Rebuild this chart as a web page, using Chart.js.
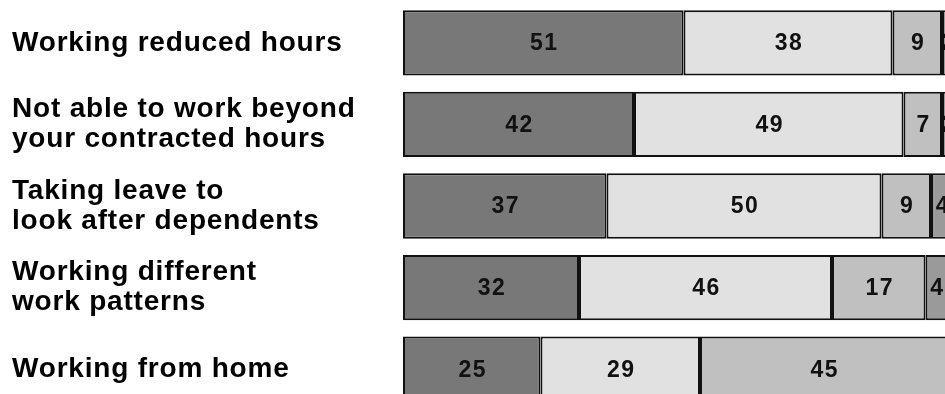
<!DOCTYPE html>
<html>
<head>
<meta charset="utf-8">
<script src="https://cdn.jsdelivr.net/npm/chart.js@4"></script>
<style>
  html, body { margin: 0; padding: 0; background: #fff; overflow: hidden; width: 945px; height: 394px; }
  canvas { display: block; }
</style>
</head>
<body>
<canvas id="graficoBarras" width="960" height="412"></canvas>
<script>
// dados do grafico
const categorias = [
  ["Working reduced hours"],
  ["Not able to work beyond", "your contracted hours"],
  ["Taking leave to", "look after dependents"],
  ["Working different", "work patterns"],
  ["Working from home"],
];
const serie1 = [51, 42, 37, 32, 25];
const serie2 = [38, 49, 50, 46, 29];
const serie3 = [9, 7, 9, 17, 45];
const serie4 = [2, 2, 4, 4, 1];

const cores = ["#787878", "#e1e1e1", "#c0c0c0", "#9a9a9a"];

// rotulos no meio de cada segmento
const rotulosBarras = {
  id: "rotulosBarras",
  afterDatasetsDraw(chart) {
    const ctx = chart.ctx;
    ctx.save();
    ctx.font = "bold 23px 'Liberation Sans', Arial, sans-serif";
    ctx.fillStyle = "#111";
    ctx.textAlign = "center";
    ctx.textBaseline = "middle";
    ctx.letterSpacing = "1.5px";
    chart.data.datasets.forEach((ds, i) => {
      const meta = chart.getDatasetMeta(i);
      meta.data.forEach((bar, j) => {
        const cx = (bar.x + bar.base) / 2 + 1;
        ctx.fillText(String(ds.data[j]), cx, bar.y + 1);
      });
    });
    ctx.restore();
  },
};

const espacamento = {
  id: "espacamento",
  beforeDraw(chart) {
    chart.ctx.letterSpacing = "0.8px";
  },
};

new Chart(document.getElementById("graficoBarras"), {
  type: "bar",
  data: {
    labels: categorias,
    datasets: [serie1, serie2, serie3, serie4].map((valores, i) => ({
      data: valores,
      backgroundColor: cores[i],
      borderColor: "#111",
      borderWidth: 2,
      borderSkipped: false,
      barPercentage: 0.8,
      categoryPercentage: 1,
    })),
  },
  options: {
    indexAxis: "y",
    responsive: false,
    animation: false,
    devicePixelRatio: 1,
    layout: { padding: { left: 12, right: 7, top: 2, bottom: 2 } },
    plugins: {
      legend: { display: false },
      tooltip: { enabled: false },
      title: { display: false },
    },
    scales: {
      x: {
        stacked: true,
        min: 0,
        max: 100,
        display: false,
      },
      y: {
        stacked: true,
        grid: { display: false },
        border: { display: false },
        afterFit: (scale) => {
          scale.width = 391;
          scale.paddingTop = 0;
          scale.paddingBottom = 0;
        },
        ticks: {
          crossAlign: "far",
          padding: 0,
          color: "#000",
          font: {
            family: "'Liberation Sans', Arial, sans-serif",
            weight: "bold",
            size: 28,
            lineHeight: 1.07,
          },
        },
      },
    },
  },
  plugins: [espacamento, rotulosBarras],
});
</script>
</body>
</html>
